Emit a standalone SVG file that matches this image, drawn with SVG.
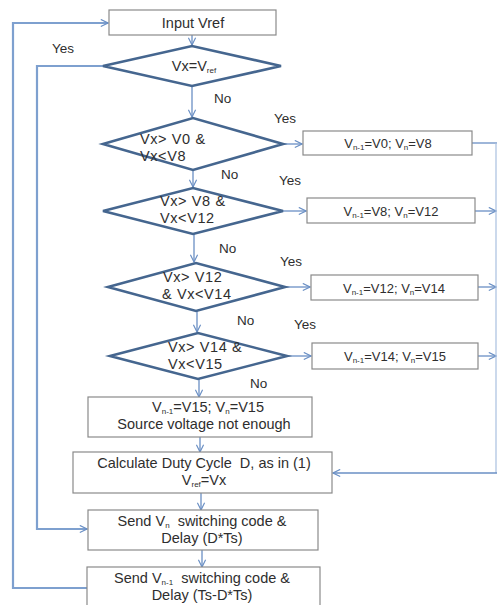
<svg xmlns="http://www.w3.org/2000/svg" width="497" height="605" viewBox="0 0 497 605">
<style>
text{font-family:"Liberation Sans",Arial,sans-serif;fill:#2e2e2e;text-anchor:middle;white-space:pre}
.box{fill:#fff;stroke:#8a8a8a;stroke-width:1.2}
.dia{fill:#fff;stroke:#45668f;stroke-width:2.6;stroke-linejoin:miter}
.t{font-size:13px}
.tb{font-size:14.5px}
.d{font-size:14.5px;text-anchor:start;letter-spacing:0.6px}
.lbl{font-size:13.5px;text-anchor:start}
.sub{font-size:8px}
.c{fill:none;stroke:#6a8fc4;stroke-width:1.3}
.f{fill:none;stroke:#a9c0e0;stroke-width:1.2}
.w{fill:none;stroke:#7ea0cf;stroke-width:2.2}
</style>
<defs>
<marker id="ah" viewBox="0 0 10 10" refX="9" refY="5" markerWidth="9" markerHeight="9" markerUnits="userSpaceOnUse" orient="auto">
<path d="M1,1 L9,5 L1,9" fill="none" stroke="#6a8fc4" stroke-width="1.3"/>
</marker>
</defs>
<rect width="497" height="605" fill="#fff"/>
<g id="connectors">
<path class="c" d="M192,35 V45" marker-end="url(#ah)"/>
<path class="c" d="M192,86 V117" marker-end="url(#ah)"/>
<path class="c" d="M193,170 V187" marker-end="url(#ah)"/>
<path class="c" d="M194,234 V262" marker-end="url(#ah)"/>
<path class="c" d="M197,311 V332" marker-end="url(#ah)"/>
<path class="c" d="M199,379 V397" marker-end="url(#ah)"/>
<path class="c" d="M200,437 V452" marker-end="url(#ah)"/>
<path class="c" d="M201,493 V510" marker-end="url(#ah)"/>
<path class="c" d="M202,550 V567" marker-end="url(#ah)"/>
<path class="c" d="M283,144 H302" marker-end="url(#ah)"/>
<path class="c" d="M283,211 H306" marker-end="url(#ah)"/>
<path class="c" d="M285,287 H310" marker-end="url(#ah)"/>
<path class="c" d="M287,356 H311" marker-end="url(#ah)"/>
<path class="c" d="M472,143 H497"/>
<path class="c" d="M475,211 H496" marker-end="url(#ah)"/>
<path class="c" d="M478,287 H496" marker-end="url(#ah)"/>
<path class="c" d="M478,356 H496" marker-end="url(#ah)"/>
<path class="f" d="M496,143 V473"/>
<path class="c" d="M497,473 H333" marker-end="url(#ah)"/>
<path class="w" d="M103,66 H37 V529 H87" marker-end="url(#ah)"/>
<path class="w" d="M87,588 H13 V23 H108" marker-end="url(#ah)"/>
<text class="lbl" x="52" y="53">Yes</text>
<text class="lbl" x="214" y="103">No</text>
<text class="lbl" x="274" y="123">Yes</text>
<text class="lbl" x="221" y="179">No</text>
<text class="lbl" x="279" y="185">Yes</text>
<text class="lbl" x="219" y="253">No</text>
<text class="lbl" x="280" y="266">Yes</text>
<text class="lbl" x="237" y="325">No</text>
<text class="lbl" x="294" y="329">Yes</text>
<text class="lbl" x="250" y="388">No</text>
</g>
<g id="input">
<rect class="box" x="109" y="10" width="167" height="25"/>
<text class="tb" x="193" y="27.5">Input Vref</text>
</g>
<g id="d1">
<path class="dia" d="M103,66 L192,46 L281,66 L192,86 Z"/>
<text class="tb" x="194" y="71">Vx=V<tspan class="sub" dy="2">ref</tspan></text>
</g>
<g id="d2">
<path class="dia" d="M103,144 L193,118 L283,144 L193,170 Z"/>
<text class="d" x="140" y="144">Vx&gt; V0 &amp;</text>
<text class="d" x="140" y="161">Vx&lt;V8</text>
</g>
<g id="d3">
<path class="dia" d="M103,211 L193,188 L283,211 L193,234 Z"/>
<text class="d" x="160" y="206">Vx&gt; V8 &amp;</text>
<text class="d" x="160" y="223">Vx&lt;V12</text>
</g>
<g id="d4">
<path class="dia" d="M108,287 L196,263 L285,287 L196,311 Z"/>
<text class="d" x="163" y="282">Vx&gt; V12</text>
<text class="d" x="162" y="299">&amp; Vx&lt;V14</text>
</g>
<g id="d5">
<path class="dia" d="M110,356 L198,333 L287,356 L198,379 Z"/>
<text class="d" x="168" y="352">Vx&gt; V14 &amp;</text>
<text class="d" x="168" y="369">Vx&lt;V15</text>
</g>
<g id="b1">
<rect class="box" x="303" y="131" width="169" height="24"/>
<text class="t" x="388" y="148">V<tspan class="sub" dy="2">n-1</tspan><tspan dy="-2">=V0; V</tspan><tspan class="sub" dy="2">n</tspan><tspan dy="-2">=V8</tspan></text>
</g>
<g id="b2">
<rect class="box" x="307" y="198" width="168" height="25"/>
<text class="t" x="391" y="215.5">V<tspan class="sub" dy="2">n-1</tspan><tspan dy="-2">=V8; V</tspan><tspan class="sub" dy="2">n</tspan><tspan dy="-2">=V12</tspan></text>
</g>
<g id="b3">
<rect class="box" x="311" y="275" width="167" height="25"/>
<text class="t" x="394" y="292.5">V<tspan class="sub" dy="2">n-1</tspan><tspan dy="-2">=V12; V</tspan><tspan class="sub" dy="2">n</tspan><tspan dy="-2">=V14</tspan></text>
</g>
<g id="b4">
<rect class="box" x="312" y="343" width="166" height="26"/>
<text class="t" x="395" y="360.5">V<tspan class="sub" dy="2">n-1</tspan><tspan dy="-2">=V14; V</tspan><tspan class="sub" dy="2">n</tspan><tspan dy="-2">=V15</tspan></text>
</g>
<g id="b5">
<rect class="box" x="88" y="397" width="224" height="40"/>
<text class="tb" x="208" y="412">V<tspan class="sub" dy="2">n-1</tspan><tspan dy="-2">=V15; V</tspan><tspan class="sub" dy="2">n</tspan><tspan dy="-2">=V15</tspan></text>
<text class="tb" x="204" y="429">Source voltage not enough</text>
</g>
<g id="calc">
<rect class="box" x="73" y="452" width="259" height="41"/>
<text class="tb" x="204" y="468">Calculate Duty Cycle  D, as in (1)</text>
<text class="tb" x="204" y="485">V<tspan class="sub" dy="2">ref</tspan><tspan dy="-2">=Vx</tspan></text>
</g>
<g id="send1">
<rect class="box" x="88" y="510" width="230" height="40"/>
<text class="tb" x="202" y="526">Send V<tspan class="sub" dy="2">n</tspan><tspan dy="-2">  switching code &amp;</tspan></text>
<text class="tb" x="202" y="543">Delay (D*Ts)</text>
</g>
<g id="send2">
<rect class="box" x="87" y="567" width="233" height="42"/>
<text class="tb" x="202" y="583">Send V<tspan class="sub" dy="2">n-1</tspan><tspan dy="-2">  switching code &amp;</tspan></text>
<text class="tb" x="202" y="600">Delay (Ts-D*Ts)</text>
</g>
</svg>
